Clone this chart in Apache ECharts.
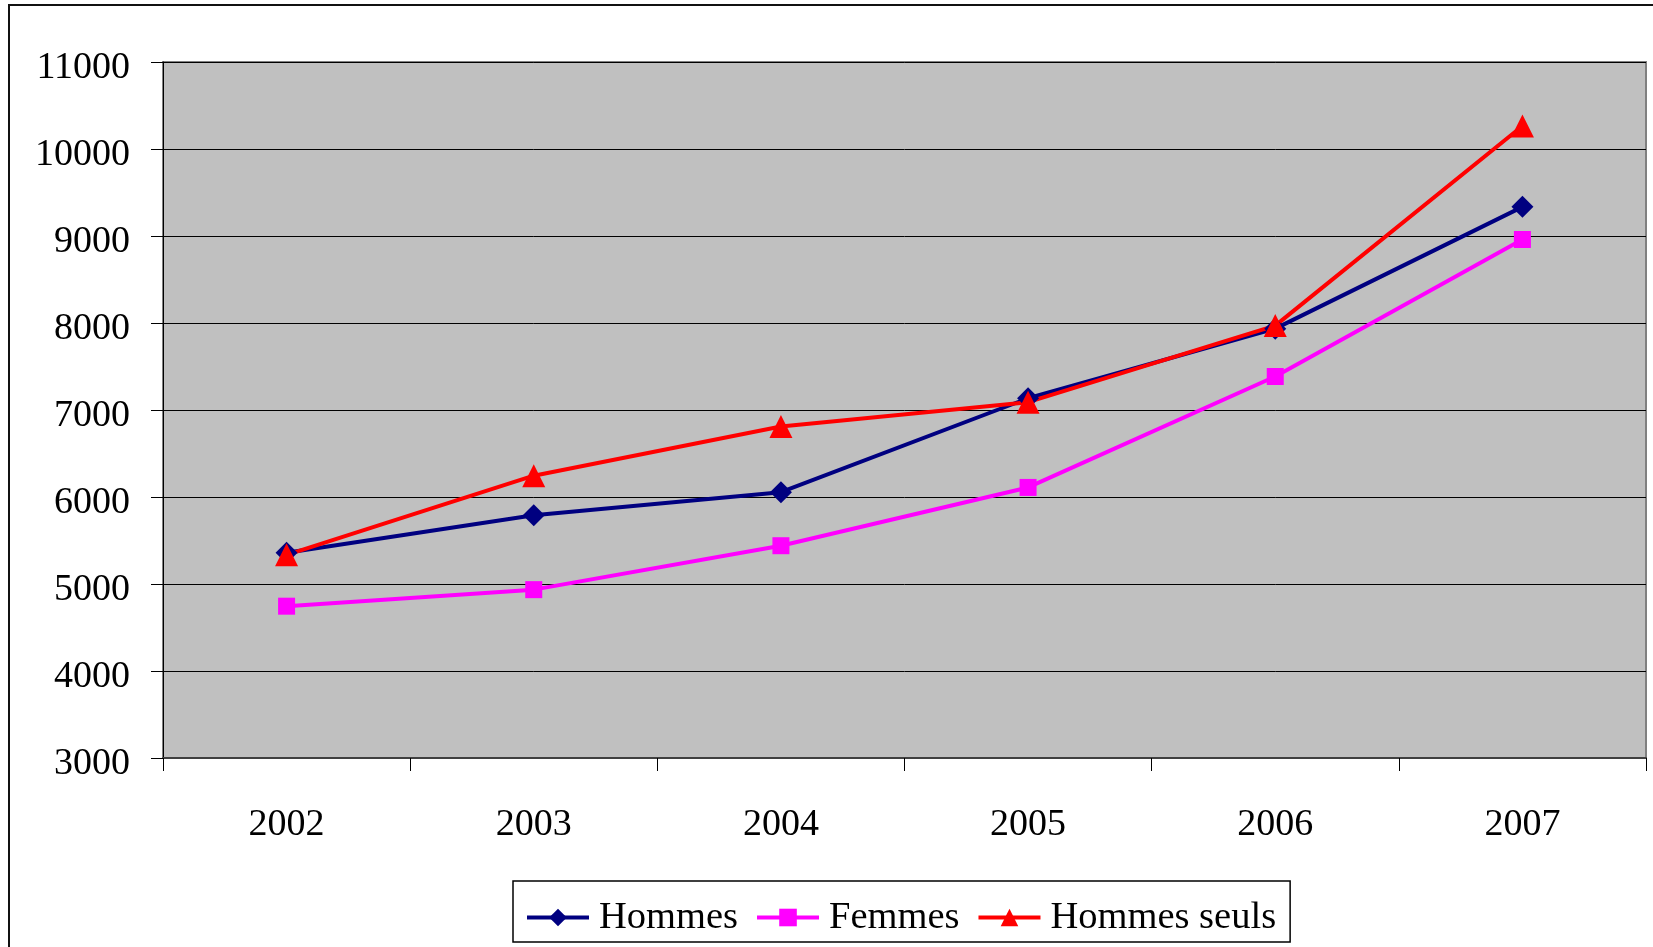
<!DOCTYPE html>
<html>
<head>
<meta charset="utf-8">
<script src="https://cdn.jsdelivr.net/npm/echarts@6/dist/echarts.min.js"></script>
<style>
  html, body { margin: 0; padding: 0; background: #fff; }
  #chart { width: 1653px; height: 947px; }
</style>
</head>
<body>
<div id="chart"></div>
<script>
// Years on the category axis
const years = ['2002', '2003', '2004', '2005', '2006', '2007'];

// Series values
const hommes = [5360, 5790, 6055, 7135, 7935, 9335];
const femmes = [4745, 4935, 5440, 6110, 7385, 8960];
const hommesSeuls = [5335, 6245, 6810, 7090, 7970, 10265];

// Value axis range
const yMin = 3000;
const yMax = 11000;
const yStep = 1000;

const FONT = 'Liberation Serif';
const FS = 38;

const chart = echarts.init(document.getElementById('chart'), null, { renderer: 'canvas' });

function lineSeries(name, data, color, symbol, size) {
  return {
    name: name,
    type: 'line',
    data: data,
    symbol: symbol,
    symbolSize: size,
    showAllSymbol: true,
    lineStyle: { color: color, width: 4 },
    itemStyle: { color: color },
    emphasis: { disabled: true },
    animation: false
  };
}

chart.setOption({
  backgroundColor: '#ffffff',
  animation: false,
  graphic: [{
    type: 'rect',
    shape: { x: 9, y: 5, width: 1700, height: 1000 },
    style: { fill: 'none', stroke: '#111', lineWidth: 2 },
    silent: true,
    z: -1
  }],
  grid: {
    left: 163,
    right: 7,
    top: 62,
    bottom: 189,
    show: true,
    backgroundColor: '#c0c0c0',
    borderColor: '#808080',
    borderWidth: 2
  },
  legend: {
    left: 513,
    top: 881,
    padding: [17, 14, 5, 12],
    backgroundColor: '#ffffff',
    borderColor: '#000',
    borderWidth: 1.5,
    itemGap: 17,
    itemWidth: 62,
    itemHeight: 22,
    lineStyle: { width: 4 },
    textStyle: { fontFamily: FONT, fontSize: 38.5, color: '#000', padding: [0, 0, 0, 5] },
    data: ['Hommes', 'Femmes', 'Hommes seuls']
  },
  xAxis: {
    type: 'category',
    data: years,
    boundaryGap: true,
    axisLine: { show: true, lineStyle: { color: '#404040', width: 2 } },
    axisTick: { show: true, interval: 0, length: 13, lineStyle: { color: '#000', width: 1 } },
    axisLabel: { fontFamily: FONT, fontSize: FS, color: '#000', margin: 48, interval: 0 },
    splitLine: { show: false }
  },
  yAxis: {
    type: 'value',
    min: yMin,
    max: yMax,
    interval: yStep,
    axisLine: { show: true, lineStyle: { color: '#000', width: 1 } },
    axisTick: { show: true, length: 12, lineStyle: { color: '#000', width: 1 } },
    axisLabel: {
      fontFamily: FONT, fontSize: FS, color: '#000', margin: 33,
      formatter: function (v) { return '{v|' + v + '}'; },
      rich: { v: { fontFamily: FONT, fontSize: FS, color: '#000', padding: [12, 0, 0, 0] } }
    },
    splitLine: { show: true, lineStyle: { color: '#000', width: 1 } }
  },
  series: [
    lineSeries('Hommes', hommes, '#000080', 'diamond', 22),
    lineSeries('Femmes', femmes, '#ff00ff', 'rect', 17),
    lineSeries('Hommes seuls', hommesSeuls, '#ff0000', 'triangle', 23)
  ]
});
</script>
</body>
</html>
